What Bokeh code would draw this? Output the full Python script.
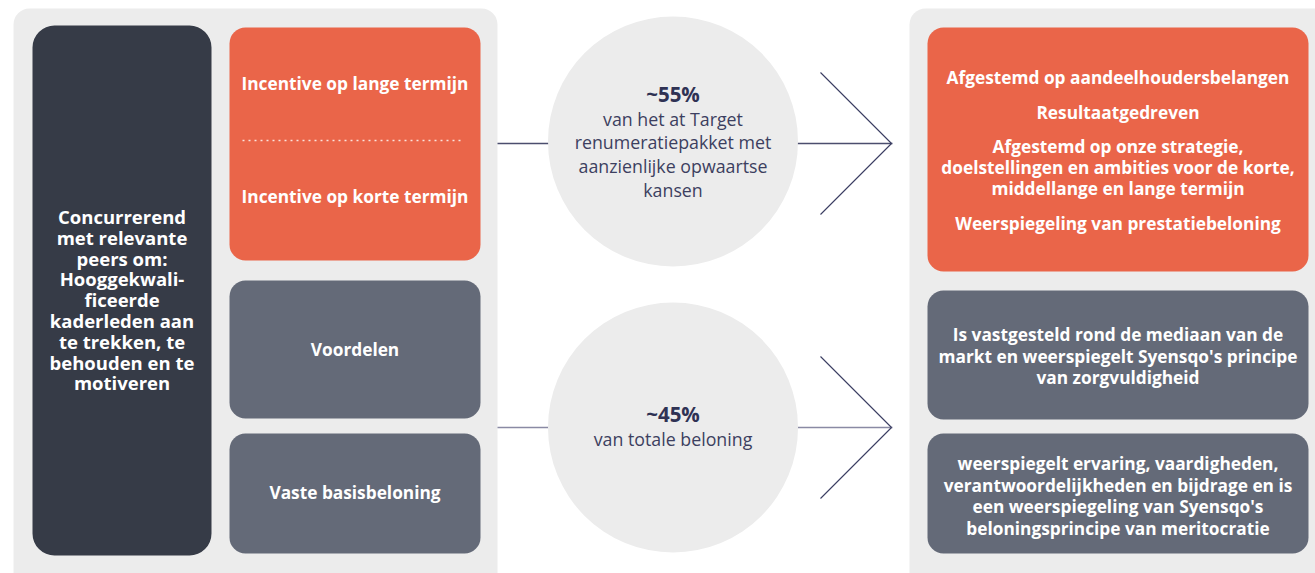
from bokeh.plotting import figure
from bokeh.models import Range1d
from bokeh.core.properties import value
from bokeh.embed import file_html
from bokeh.resources import INLINE

# ---- content ----
left_title = ["Concurrerend", "met relevante", "peers om:", "Hooggekwali-", "ficeerde",
              "kaderleden aan", "te trekken, te", "behouden en te", "motiveren"]
component_labels = ["Incentive op lange termijn", "Incentive op korte termijn",
                    "Voordelen", "Vaste basisbeloning"]
share_values = ["~55%", "~45%"]
share_texts = [["van het at Target", "renumeratiepakket met", "aanzienlijke opwaartse", "kansen"],
               ["van totale beloning"]]
right_paragraphs = [
    ["Afgestemd op aandeelhoudersbelangen"],
    ["Resultaatgedreven"],
    ["Afgestemd op onze strategie,", "doelstellingen en ambities voor de korte,",
     "middellange en lange termijn"],
    ["Weerspiegeling van prestatiebeloning"],
]
right_texts = [
    ["Is vastgesteld rond de mediaan van de", "markt en weerspiegelt Syensqo's principe",
     "van zorgvuldigheid"],
    ["weerspiegelt ervaring, vaardigheden,", "verantwoordelijkheden en bijdrage en is",
     "een weerspiegeling van Syensqo's", "beloningsprincipe van meritocratie"],
]

# ---- styles ----
PANEL = "#ececec"
DARK = "#363b47"
ORANGE = "#ea6549"
SLATE = "#646a78"
NAVY = "#2f3254"
TEXTNAVY = "#3c3f60"
FONT = value("Open Sans")
BOLD = 17.3

W, H = 1315, 573
p = figure(width=W, height=H, output_backend="svg", toolbar_location=None,
           x_range=Range1d(0, W), y_range=Range1d(H, 0),
           min_border=0, outline_line_color=None, background_fill_color="white",
           border_fill_color="white")
p.axis.visible = False
p.grid.visible = False


def box(x0, x1, y0, y1, color, r):
    p.quad(left=x0, right=x1, top=y0, bottom=y1, fill_color=color, line_color=None,
           border_radius=r)


def lines(xc, y0, items, size, color, bold=True, lh=21.0):
    y = y0
    for t in items:
        p.text(x=[xc], y=[y], text=[t], text_font=FONT, text_font_size=f"{size}px",
               text_font_style="bold" if bold else "normal", text_color=color,
               text_align="center", text_baseline="middle")
        y += lh
    return y


# panels
box(13, 497, 8, 600, PANEL, 16)
box(909, 1345, 8, 600, PANEL, 16)

# connectors
for yc, c in [(143, "#4b4e6e"), (427, "#8a8aa4")]:
    p.line([497, 892], [yc, yc], line_color=c, line_width=1.3)
    p.line([820, 891, 820], [yc - 71, yc, yc + 71], line_color="#3b3e62", line_width=1.1)

# left boxes
box(32, 211, 25, 555, DARK, 22)
box(229, 480, 27, 260, ORANGE, 16)
box(229, 480, 280, 418, SLATE, 16)
box(229, 480, 433, 553, SLATE, 16)
p.line([242, 463], [140, 140], line_color="#fbe3dc", line_width=1.6, line_dash="2 4")

lines(121.5, 216, left_title, 18.5, "white", lh=20.8)
lines(354.5, 83, [component_labels[0]], BOLD, "white")
lines(354.5, 196, [component_labels[1]], BOLD, "white")
lines(354.5, 349, [component_labels[2]], BOLD, "white")
lines(354.5, 492, [component_labels[3]], BOLD, "white")

# circles
for yc in [141, 427]:
    p.circle(x=[672.5], y=[yc], radius=125, fill_color=PANEL, line_color=None)

lines(672.5, 93, [share_values[0]], 20.5, NAVY)
lines(672.5, 118, share_texts[0], 17.8, TEXTNAVY, bold=False, lh=23.7)
lines(672.5, 413, [share_values[1]], 20.5, NAVY)
lines(672.5, 438, share_texts[1], 17.8, TEXTNAVY, bold=False)

# right boxes
box(927, 1308, 27, 271, ORANGE, 16)
box(927, 1308, 290, 419, SLATE, 16)
box(927, 1308, 433, 553, SLATE, 16)
y = 77
for para in right_paragraphs:
    y = lines(1117.5, y, para, BOLD, "white", lh=21) + 13.5
lines(1117.5, 334, right_texts[0], BOLD, "white", lh=21.5)
lines(1117.5, 463, right_texts[1], BOLD, "white", lh=21.7)

open("out.html", "w").write(file_html(p, INLINE))
